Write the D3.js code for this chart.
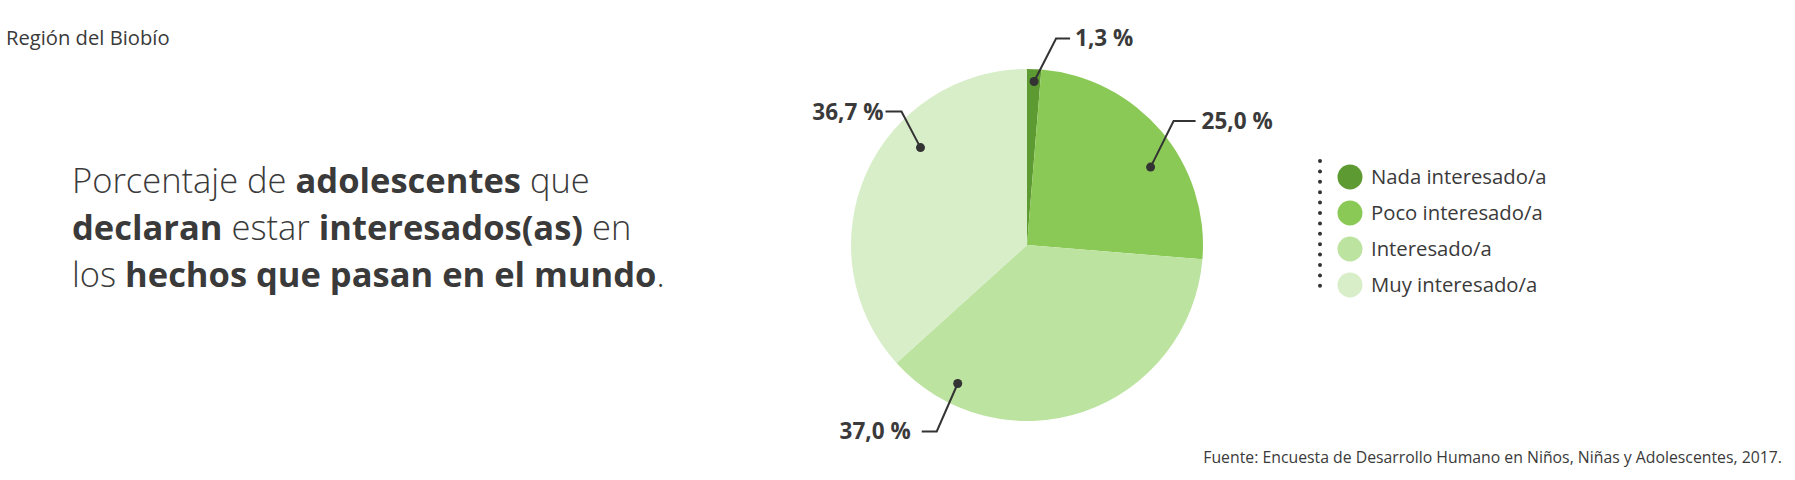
<!DOCTYPE html>
<html>
<head>
<meta charset="utf-8">
<script src="https://cdn.jsdelivr.net/npm/d3@7"></script>
<style>
  body { margin: 0; background: #fff; }
  svg text { font-family: "Open Sans", "Noto Sans", sans-serif; fill: #3a3a3a; }
</style>
</head>
<body>
<div id="chart"></div>
<script>
// data
var categories = ["Nada interesado/a", "Poco interesado/a", "Interesado/a", "Muy interesado/a"];
var values = [1.3, 25.0, 37.0, 36.7];
var labels = ["1,3 %", "25,0 %", "37,0 %", "36,7 %"];
var colors = ["#5e9a32", "#8bc957", "#bde3a0", "#d8eec9"];

var width = 1795, height = 480;

var svg = d3.select("#chart").append("svg")
    .attr("width", width)
    .attr("height", height);

// region
svg.append("text")
    .attr("x", 6).attr("y", 45)
    .style("font-size", "20.2px")
    .text("Región del Biobío");

// title with bold parts, one text per line
var titleLines = [
    [["Porcentaje de ", 300], ["adolescentes", 700], [" que", 300]],
    [["declaran", 700], [" estar ", 300], ["interesados(as)", 700], [" en", 300]],
    [["los ", 300], ["hechos que pasan en el mundo", 700], [".", 300]]
];
titleLines.forEach(function (line, i) {
    var t = svg.append("text")
        .attr("x", 72)
        .attr("y", 193 + i * 47)
        .style("font-size", "34.5px");
    line.forEach(function (p) {
        t.append("tspan").text(p[0]).style("font-weight", p[1]);
    });
});

// pie
var cx = 1027, cy = 245, r = 176;
var pie = d3.pie().sort(null).value(d => d);
var arcs = pie(values);
var arc = d3.arc().innerRadius(0).outerRadius(r);

var g = svg.append("g").attr("transform", "translate(" + cx + "," + cy + ")");
g.selectAll("path")
    .data(arcs)
    .enter().append("path")
    .attr("d", arc)
    .attr("fill", (d, i) => colors[i]);

// label placement inside slice (fraction of angle, fraction of radius) and leader shape
var labFrac = [0.53, 0.59, 0.84, 0.64];
var labRad = [0.93, 0.83, 0.88, 0.82];
var elbow = [[22, -43], [23, -46], [-21, 48], [-19, -36]];
var tail = [14, 22, -15, -16];
var gap = [5, 6, -11, -2];

arcs.forEach(function (a, i) {
    var ang = a.startAngle + labFrac[i] * (a.endAngle - a.startAngle);
    var px = Math.sin(ang) * r * labRad[i], py = -Math.cos(ang) * r * labRad[i];
    var ex = px + elbow[i][0], ey = py + elbow[i][1];
    var tx = ex + tail[i];
    g.append("path")
        .attr("d", d3.line()([[px, py], [ex, ey], [tx, ey]]))
        .attr("fill", "none")
        .attr("stroke", "#333")
        .attr("stroke-width", 2);
    g.append("circle").attr("cx", px).attr("cy", py).attr("r", 4.5).attr("fill", "#333");
    g.append("text")
        .attr("x", tx + gap[i])
        .attr("y", ey)
        .attr("dy", "0.35em")
        .attr("text-anchor", tail[i] > 0 ? "start" : "end")
        .style("font-size", "22.5px")
        .style("font-weight", 700)
        .text(labels[i]);
});

// legend
var ly = d3.scalePoint().domain(categories).range([177, 285]);
var leg = svg.append("g");
leg.append("line")
    .attr("x1", 1320).attr("x2", 1320)
    .attr("y1", 161).attr("y2", 296)
    .attr("stroke", "#333")
    .attr("stroke-width", 4)
    .attr("stroke-linecap", "round")
    .attr("stroke-dasharray", "0,10.4");
leg.selectAll("circle")
    .data(categories)
    .enter().append("circle")
    .attr("cx", 1350)
    .attr("cy", d => ly(d))
    .attr("r", 12.5)
    .attr("fill", (d, i) => colors[i]);
leg.selectAll("text")
    .data(categories)
    .enter().append("text")
    .attr("x", 1371)
    .attr("y", d => ly(d))
    .attr("dy", "0.35em")
    .style("font-size", "20.3px")
    .text(d => d);

// source
svg.append("text")
    .attr("x", 1782).attr("y", 463)
    .attr("text-anchor", "end")
    .style("font-size", "15.8px")
    .text("Fuente: Encuesta de Desarrollo Humano en Niños, Niñas y Adolescentes, 2017.");
</script>
</body>
</html>
